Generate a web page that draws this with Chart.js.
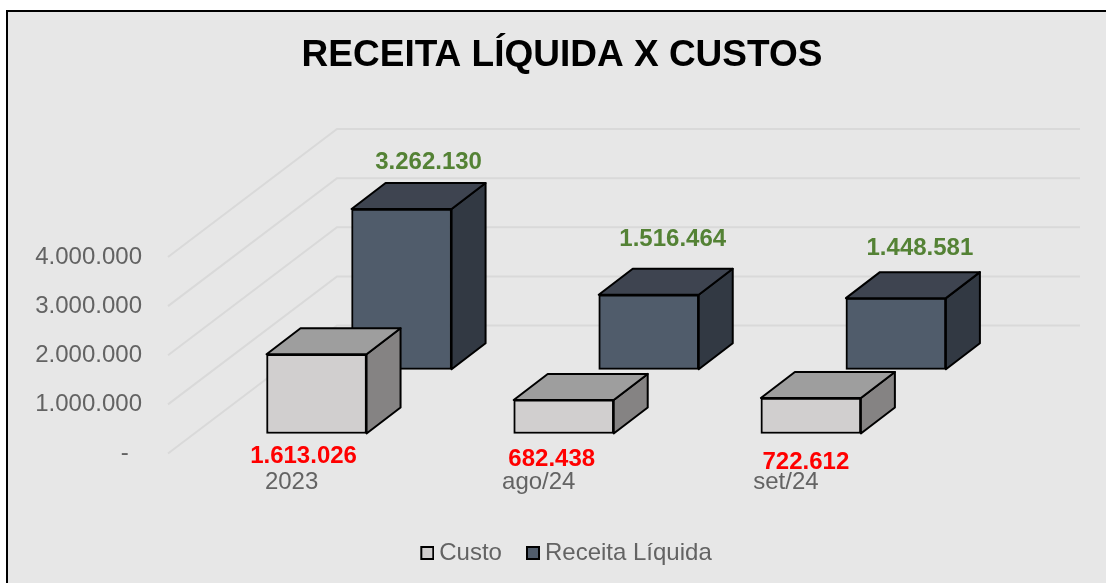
<!DOCTYPE html>
<html>
<head>
<meta charset="utf-8">
<title>Receita Líquida x Custos</title>
<script src="https://cdn.jsdelivr.net/npm/chart.js@4"></script>
<style>
    html, body { margin: 0; padding: 0; background: #fff; overflow: hidden; }
    #frame { position: absolute; left: 6px; top: 10px; right: 0; bottom: 0; background: #e7e7e7; border-top: 2px solid #000; border-left: 2px solid #000; }
    #wrap { position: absolute; left: 0; top: 0; width: 1106px; height: 583px; }
</style>
</head>
<body>
<div id="frame"></div>
<div id="wrap"><canvas id="custosChart"></canvas></div>
<script>
const categories = ['2023', 'ago/24', 'set/24'];
const custo = [1613026, 682438, 722612];
const receita = [3262130, 1516464, 1448581];
const custoLabels = ['1.613.026', '682.438', '722.612'];
const receitaLabels = ['3.262.130', '1.516.464', '1.448.581'];
const yTicks = ['-  ', '1.000.000', '2.000.000', '3.000.000', '4.000.000'];

const colors = {
    text: '#636363',
    grid: '#d9d9d9',
    custo: '#d1cfcf', custoTop: '#9e9e9e', custoSide: '#858383',
    receita: '#505c6b', receitaTop: '#3e4450', receitaSide: '#323943',
    red: '#ff0000',
    green: '#548235'
};

const FONT = '"Liberation Sans", Arial, sans-serif';

// depth of the boxes and of the back wall, in pixels
const BOX_DX = 34, BOX_DY = 26;
const WALL_DX = 169, WALL_DY = 128, WALL_RIGHT = 1080;

// value label nudges from the bar (dx, dy)
const custoLabelPos = [[-13, 23], [-12, 26], [-5, 29]];
const receitaLabelPos = [[27, -47], [24, -55], [24, -50]];

// legend marker, pushed to the right of its canvas so it sits close to the text
function swatch(color) {
    const c = document.createElement('canvas');
    c.width = 18; c.height = 14;
    const g = c.getContext('2d');
    g.fillStyle = '#000';
    g.fillRect(4, 0, 14, 14);
    g.fillStyle = color;
    g.fillRect(6, 2, 10, 10);
    return c;
}

const wallPlugin = {
    id: 'wall',
    // legend sits a little right of the title in the original
    afterLayout(chart) {
        chart.legend.left += 11;
    },
    beforeDatasetsDraw(chart) {
        const y = chart.scales.y, ctx = chart.ctx, left = chart.chartArea.left;
        ctx.save();
        ctx.strokeStyle = colors.grid;
        ctx.lineWidth = 2;
        y.ticks.forEach(t => {
            const py = y.getPixelForValue(t.value);
            ctx.beginPath();
            ctx.moveTo(left, py);
            ctx.lineTo(left + WALL_DX, py - WALL_DY);
            ctx.lineTo(WALL_RIGHT, py - WALL_DY);
            ctx.stroke();
        });
        ctx.restore();
    }
};

const boxPlugin = {
    id: 'box',
    afterDatasetDraw(chart, args) {
        const ds = chart.data.datasets[args.index];
        const ctx = chart.ctx;
        ctx.save();
        ctx.lineWidth = 2;
        ctx.lineJoin = 'round';
        ctx.strokeStyle = '#000';
        chart.getDatasetMeta(args.index).data.forEach(bar => {
            const p = bar.getProps(['x', 'y', 'base', 'width'], true);
            const l = p.x - p.width / 2, r = p.x + p.width / 2;
            ctx.fillStyle = ds.sideColor;
            ctx.beginPath();
            ctx.moveTo(r, p.y);
            ctx.lineTo(r + BOX_DX, p.y - BOX_DY);
            ctx.lineTo(r + BOX_DX, p.base - BOX_DY);
            ctx.lineTo(r, p.base);
            ctx.closePath();
            ctx.fill();
            ctx.stroke();
            ctx.fillStyle = ds.topColor;
            ctx.beginPath();
            ctx.moveTo(l, p.y);
            ctx.lineTo(l + BOX_DX, p.y - BOX_DY);
            ctx.lineTo(r + BOX_DX, p.y - BOX_DY);
            ctx.lineTo(r, p.y);
            ctx.closePath();
            ctx.fill();
            ctx.stroke();
        });
        ctx.restore();
    },
    afterDatasetsDraw(chart) {
        const ctx = chart.ctx;
        ctx.save();
        ctx.font = 'bold 24px ' + FONT;
        ctx.textAlign = 'center';
        ctx.textBaseline = 'middle';
        chart.getDatasetMeta(0).data.forEach((bar, i) => {
            ctx.fillStyle = colors.red;
            ctx.fillText(custoLabels[i], bar.x + custoLabelPos[i][0], bar.base + custoLabelPos[i][1]);
        });
        chart.getDatasetMeta(1).data.forEach((bar, i) => {
            ctx.fillStyle = colors.green;
            ctx.fillText(receitaLabels[i], bar.x + receitaLabelPos[i][0], bar.y + receitaLabelPos[i][1]);
        });
        ctx.restore();
    }
};

new Chart(document.getElementById('custosChart'), {
    type: 'bar',
    plugins: [wallPlugin, boxPlugin],
    data: {
        labels: categories,
        datasets: [{
            label: 'Custo',
            data: custo.map((v, i) => ({ x: i, y: v })),
            xAxisID: 'xFront',
            yAxisID: 'yFront',
            backgroundColor: colors.custo,
            topColor: colors.custoTop,
            sideColor: colors.custoSide,
            borderColor: '#000',
            borderWidth: 2,
            borderSkipped: false,
            barThickness: 100,
            grouped: false,
            clip: false
        }, {
            label: 'Receita Líquida',
            data: receita.map((v, i) => ({ x: i, y: v })),
            xAxisID: 'xBack',
            yAxisID: 'yBack',
            backgroundColor: colors.receita,
            topColor: colors.receitaTop,
            sideColor: colors.receitaSide,
            borderColor: '#000',
            borderWidth: 2,
            borderSkipped: false,
            barThickness: 100,
            grouped: false,
            clip: false
        }]
    },
    options: {
        responsive: true,
        maintainAspectRatio: false,
        animation: false,
        layout: { padding: { left: 18, bottom: 8 } },
        scales: {
            // what is shown: floor axis and value axis
            x: {
                type: 'category',
                offset: true,
                grid: { display: false },
                border: { display: false },
                ticks: { color: colors.text, font: { family: FONT, size: 24 }, padding: 6, maxRotation: 0 },
                afterFit: s => { s.height = 60.5; }
            },
            y: {
                type: 'linear',
                min: 0,
                max: 4000000,
                grid: { display: false },
                border: { display: false },
                ticks: {
                    stepSize: 1000000,
                    color: colors.text,
                    font: { family: FONT, size: 24 },
                    padding: 18,
                    callback: (v, i) => yTicks[i]
                },
                afterFit: s => { s.width = 150; }
            },
            // hidden axes that push each row of boxes into the depth
            xFront: { type: 'linear', display: false, offset: false, min: -0.601, max: 2.399 },
            xBack: { type: 'linear', display: false, offset: false, min: -0.945, max: 2.055 },
            yFront: { type: 'linear', display: false, min: -408000, max: 3592000 },
            yBack: {
                type: 'linear',
                position: 'right',
                min: -1714000,
                max: 2286000,
                grid: { display: false },
                border: { display: false },
                ticks: { display: false },
                afterFit: s => { s.width = 196.5; }
            }
        },
        plugins: {
            tooltip: { enabled: false },
            title: {
                display: true,
                text: 'RECEITA LÍQUIDA X CUSTOS',
                color: '#000',
                font: { family: FONT, size: 37, weight: 'bold' },
                padding: { top: 34, bottom: 178.6 }
            },
            legend: {
                position: 'bottom',
                labels: {
                    color: colors.text,
                    font: { family: FONT, size: 24 },
                    usePointStyle: true,
                    boxWidth: 4,
                    padding: 27,
                    generateLabels: chart => Chart.defaults.plugins.legend.labels.generateLabels(chart).map((item, i) => ({
                        ...item,
                        pointStyle: swatch(i === 0 ? colors.custo : colors.receita)
                    }))
                }
            }
        }
    }
});
</script>
</body>
</html>
